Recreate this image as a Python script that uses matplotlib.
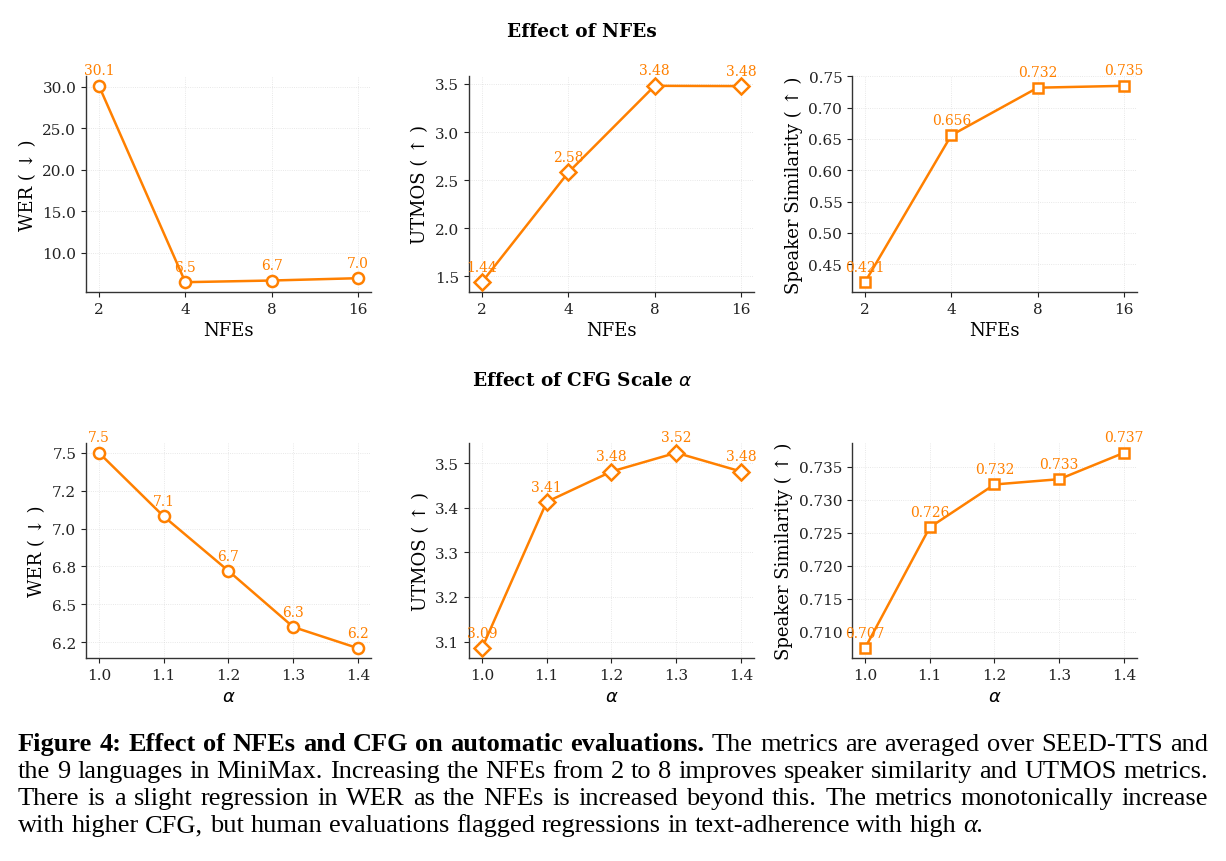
import matplotlib
matplotlib.use("Agg")
import matplotlib.pyplot as plt
from matplotlib.ticker import FormatStrFormatter

# NFE sweep
nfe_labels = ["2", "4", "8", "16"]
nfe_wer = [30.1, 6.47, 6.67, 6.95]
nfe_utmos = [1.44, 2.58, 3.48, 3.477]
nfe_sim = [0.421, 0.656, 0.732, 0.735]

# CFG sweep
cfg_alpha = [1.0, 1.1, 1.2, 1.3, 1.4]
cfg_wer = [7.5, 7.08, 6.72, 6.35, 6.21]
cfg_utmos = [3.085, 3.413, 3.481, 3.523, 3.481]
cfg_sim = [0.7075, 0.7258, 0.7323, 0.7331, 0.7371]
cfg_wer_ticks = [6.25, 6.5, 6.75, 7.0, 7.25, 7.5]

nfe_wer_txt = ["30.1", "6.5", "6.7", "7.0"]
nfe_utmos_txt = ["1.44", "2.58", "3.48", "3.48"]
nfe_sim_txt = ["0.421", "0.656", "0.732", "0.735"]
cfg_wer_txt = ["7.5", "7.1", "6.7", "6.3", "6.2"]
cfg_utmos_txt = ["3.09", "3.41", "3.48", "3.52", "3.48"]
cfg_sim_txt = ["0.707", "0.726", "0.732", "0.733", "0.737"]

caption = [
    [("Figure 4: Effect of NFEs and CFG on automatic evaluations.", "bold"),
     ("The metrics are averaged over SEED-TTS and", "normal")],
    [("the 9 languages in MiniMax. Increasing the NFEs from 2 to 8 improves speaker similarity and UTMOS metrics.", "normal")],
    [("There is a slight regression in WER as the NFEs is increased beyond this. The metrics monotonically increase", "normal")],
    [("with higher CFG, but human evaluations flagged regressions in text-adherence with high", "normal"),
     ("α.", "italic")],
]

plt.rcParams["font.family"] = "DejaVu Serif"
ORANGE = "#ff8000"
W, H = 1226, 862

fig = plt.figure(figsize=(W / 100, H / 100), dpi=100)


def add_ax(left, top, right, bottom):
    return fig.add_axes([left / W, 1 - bottom / H, (right - left) / W, (bottom - top) / H])


def style(ax):
    for s in ["top", "right"]:
        ax.spines[s].set_visible(False)
    for s in ["left", "bottom"]:
        ax.spines[s].set_color("#333333")
        ax.spines[s].set_linewidth(1.0)
    ax.grid(True, linestyle=":", linewidth=0.6, color="#cccccc", alpha=0.6)
    ax.set_axisbelow(True)
    ax.tick_params(labelsize=11, colors="#222222")


def draw(ax, x, y, txt, marker, ms):
    ax.plot(x, y, color=ORANGE, lw=1.8, marker=marker, ms=ms, mfc="white",
            mec=ORANGE, mew=1.8, zorder=3)
    for xi, yi, t in zip(x, y, txt):
        ax.annotate(t, (xi, yi), xytext=(0, 6), textcoords="offset points",
                    ha="center", va="bottom", fontsize=10, color=ORANGE, zorder=4)


cols = [(86, 371), (469, 754), (852, 1137)]
nfe_x = list(range(len(nfe_labels)))

top_axes = [add_ax(l, 77, r, 293) for l, r in cols]
bot_axes = [add_ax(l, 444, r, 659) for l, r in cols]

specs_top = [(nfe_wer, nfe_wer_txt, "o", 8, "WER ( ↓ )"),
             (nfe_utmos, nfe_utmos_txt, "D", 8, "UTMOS ( ↑ )"),
             (nfe_sim, nfe_sim_txt, "s", 7.5, "Speaker Similarity ( ↑ )")]
for ax, (y, txt, m, ms, lab) in zip(top_axes, specs_top):
    style(ax)
    draw(ax, nfe_x, y, txt, m, ms)
    ax.set_xticks(nfe_x)
    ax.set_xticklabels(nfe_labels)
    ax.set_xlabel("NFEs", fontsize=13)
    ax.set_ylabel(lab, fontsize=13)
top_axes[0].yaxis.set_major_formatter(FormatStrFormatter("%.1f"))

specs_bot = [(cfg_wer, cfg_wer_txt, "o", 8, "WER ( ↓ )"),
             (cfg_utmos, cfg_utmos_txt, "D", 8, "UTMOS ( ↑ )"),
             (cfg_sim, cfg_sim_txt, "s", 7.5, "Speaker Similarity ( ↑ )")]
for ax, (y, txt, m, ms, lab) in zip(bot_axes, specs_bot):
    style(ax)
    draw(ax, cfg_alpha, y, txt, m, ms)
    ax.set_xticks(cfg_alpha)
    ax.xaxis.set_major_formatter(FormatStrFormatter("%.1f"))
    ax.set_xlabel(r"$\alpha$", fontsize=13)
    ax.set_ylabel(lab, fontsize=13)
bot_axes[0].set_yticks(cfg_wer_ticks)
bot_axes[0].yaxis.set_major_formatter(FormatStrFormatter("%.1f"))

fig.text(582 / W, 1 - 32 / H, "Effect of NFEs", ha="center", va="center",
         fontsize=13.3, fontweight="bold")
fig.text(582 / W, 1 - 381 / H, r"Effect of CFG Scale $\alpha$", ha="center",
         va="center", fontsize=13.3, fontweight="bold")

# caption, justified like the paper
fig.canvas.draw()
renderer = fig.canvas.get_renderer()
cap_font = "Liberation Serif"


def width_of(s, weight, fs):
    style_ = "italic" if weight == "italic" else "normal"
    w_ = "bold" if weight == "bold" else "normal"
    t = fig.text(0, 0, s, family=cap_font, fontsize=fs, fontweight=w_, fontstyle=style_)
    w = t.get_window_extent(renderer).width
    t.remove()
    return w


x0, x1 = 18, 1208
ref_w = width_of(caption[1][0][0], "normal", 10)
cap_fs = 10 * (x1 - x0) / ref_w * 0.995
space_w = width_of("x x", "normal", cap_fs) - width_of("xx", "normal", cap_fs)

baselines = [751, 778, 805, 832]
for i, line in enumerate(caption):
    words = [(w, wt) for seg, wt in line for w in seg.split(" ")]
    widths = [width_of(w, wt, cap_fs) for w, wt in words]
    if i < len(caption) - 1:
        gap = (x1 - x0 - sum(widths)) / (len(words) - 1)
    else:
        gap = space_w
    x = x0
    for (w, wt), ww in zip(words, widths):
        fig.text(x / W, 1 - baselines[i] / H, w, family=cap_font, fontsize=cap_fs,
                 fontweight="bold" if wt == "bold" else "normal",
                 fontstyle="italic" if wt == "italic" else "normal",
                 ha="left", va="baseline")
        x += ww + gap

fig.savefig("out.png", dpi=100)
